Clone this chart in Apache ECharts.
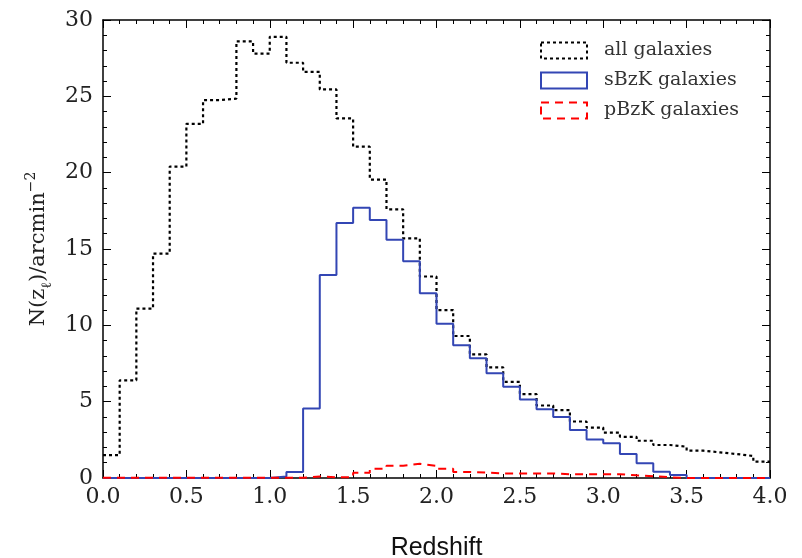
<!DOCTYPE html>
<html>
<head>
<meta charset="utf-8">
<script src="https://cdn.jsdelivr.net/npm/echarts@6/dist/echarts.min.js"></script>
<style>html,body{margin:0;padding:0;background:#fff}#c{width:802px;height:558px}</style>
</head>
<body>
<div id="c"></div>
<script>
// Bin edges (redshift)
const binEdges = [0.0,0.1,0.2,0.3,0.4,0.5,0.6,0.7,0.8,0.9,1.0,1.1,1.2,1.3,1.4,1.5,1.6,1.7,1.8,1.9,2.0,
  2.1,2.2,2.3,2.4,2.5,2.6,2.7,2.8,2.9,3.0,3.1,3.2,3.3,3.4,3.5,3.6,3.7,3.8,3.9,4.0];
// N(z) per bin
const allGalaxies = [1.5,6.4,11.1,14.7,20.4,23.2,24.75,24.85,28.6,27.8,
  28.9,27.2,26.6,25.45,23.55,21.7,19.55,17.6,15.7,13.2,
  11.0,9.3,8.1,7.25,6.3,5.5,4.75,4.45,3.7,3.3,
  2.97,2.7,2.44,2.16,2.05,1.79,1.68,1.57,1.44,1.07];
const sBzK = [0,0,0,0,0,0,0,0,0,0,
  0.1,0.4,4.56,13.3,16.7,17.7,16.9,15.6,14.2,12.1,
  10.1,8.7,7.84,6.86,5.98,5.15,4.5,4.0,3.14,2.53,
  2.27,1.57,0.96,0.41,0.2,0,0,0,0,0];
const pBzK = [0.02,0.02,0.02,0.02,0.02,0.02,0.02,0.02,0.02,0.02,
  0.02,0.02,0.1,0.05,0.05,0.35,0.6,0.8,0.93,0.8,
  0.6,0.4,0.35,0.3,0.3,0.3,0.3,0.25,0.25,0.25,
  0.25,0.18,0.12,0.05,0,0,0,0,0,0];
const seriesNames = ['all galaxies','sBzK galaxies','pBzK galaxies'];
const xTicks = [0.0,0.5,1.0,1.5,2.0,2.5,3.0,3.5,4.0];
const yTicks = [0,5,10,15,20,25,30];

function stepData(vals){
  const d = vals.map((v,i)=>[binEdges[i], v]);
  d.push([binEdges[binEdges.length-1], vals[vals.length-1]]);
  return d;
}

const chart = echarts.init(document.getElementById('c'), null, {renderer:'canvas'});
const serif = 'DejaVu Serif';
const axisCommon = {
  axisLine:{show:true, onZero:false, lineStyle:{color:'#000', width:1.5}},
  axisTick:{show:true, inside:true, length:8, lineStyle:{color:'#000', width:1}},
  minorTick:{show:true, splitNumber:5, length:4, lineStyle:{color:'#000', width:1}},
  splitLine:{show:false}
};
const blue = '#3346b4';
chart.setOption({
  animation:false,
  backgroundColor:'#fff',
  grid:{left:103, right:32, top:20, bottom:80, containLabel:false, outerBoundsMode:'none'},
  xAxis:[
    Object.assign({type:'value', min:xTicks[0], max:xTicks[xTicks.length-1], interval:0.5, position:'bottom',
      axisLabel:{fontFamily:serif, fontSize:22, color:'#222', margin:8, formatter:v=>v.toFixed(1)},
      name:'Redshift', nameLocation:'middle', nameGap:58,
      nameTextStyle:{fontFamily:'Liberation Sans', fontSize:25, color:'#111'}}, axisCommon),
    Object.assign({type:'value', min:0, max:4, interval:0.5, position:'top', axisLabel:{show:false}}, axisCommon)
  ],
  yAxis:[
    Object.assign({type:'value', min:yTicks[0], max:yTicks[yTicks.length-1], interval:5, position:'left',
      axisLabel:{fontFamily:serif, fontSize:22, color:'#222', margin:10},
      name:'{n|N(z}{sub|ℓ}{n|)/arcmin}{sup|−2}', nameLocation:'middle', nameGap:49, nameRotate:90,
      nameTextStyle:{rich:{
        n:{fontFamily:serif, fontSize:21, color:'#222', lineHeight:30},
        sub:{fontFamily:serif, fontSize:14, color:'#222', lineHeight:14, verticalAlign:'bottom'},
        sup:{fontFamily:serif, fontSize:14, color:'#222', lineHeight:14, verticalAlign:'top'}
      }}}, axisCommon),
    Object.assign({type:'value', min:0, max:30, interval:5, position:'right', axisLabel:{show:false}}, axisCommon)
  ],
  legend:{
    orient:'vertical', left:535, top:36, itemWidth:46, itemHeight:16, itemGap:11,
    textStyle:{fontFamily:serif, fontSize:19, color:'#333', padding:[0,0,0,12]},
    data:[
      {name:seriesNames[0], icon:'rect', itemStyle:{color:'rgba(0,0,0,0)', borderColor:'#000', borderWidth:2, borderType:[3,3]}},
      {name:seriesNames[1], icon:'rect', itemStyle:{color:'rgba(0,0,0,0)', borderColor:blue, borderWidth:2, borderType:'solid'}},
      {name:seriesNames[2], icon:'rect', itemStyle:{color:'rgba(0,0,0,0)', borderColor:'#ff0000', borderWidth:2, borderType:[8,6]}}
    ]
  },
  series:[
    {name:seriesNames[0], type:'line', step:'end', showSymbol:false, symbol:'none',
      data:stepData(allGalaxies), itemStyle:{color:'#000'},
      lineStyle:{color:'#000', width:2.2, type:[3,3]}, z:2},
    {name:seriesNames[1], type:'line', step:'end', showSymbol:false, symbol:'none',
      data:stepData(sBzK), itemStyle:{color:blue},
      lineStyle:{color:blue, width:2}, z:3},
    {name:seriesNames[2], type:'line', step:'end', showSymbol:false, symbol:'none',
      data:stepData(pBzK), itemStyle:{color:'#ff0000'},
      lineStyle:{color:'#ff0000', width:2, type:[8,6]}, z:4}
  ]
});
</script>
</body>
</html>
